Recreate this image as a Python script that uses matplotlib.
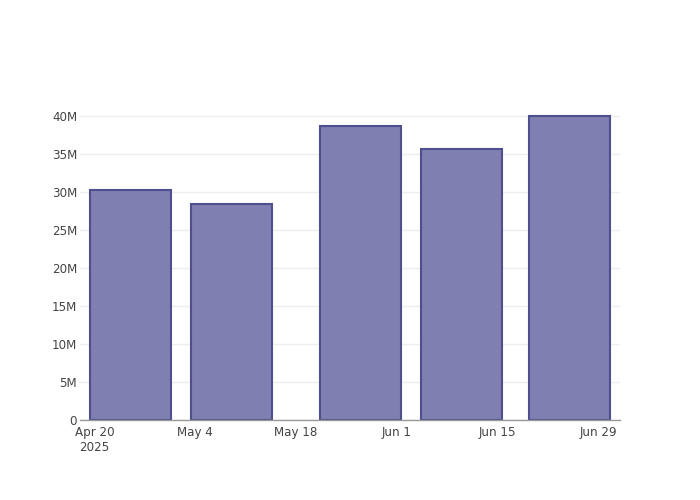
import datetime as dt
import matplotlib
matplotlib.use("Agg")
import matplotlib.pyplot as plt
import matplotlib.dates as mdates
from matplotlib.ticker import FuncFormatter

# data
dates = ["2025-04-25", "2025-05-09", "2025-05-27", "2025-06-10", "2025-06-25"]
values = [30.25e6, 28.4e6, 38.7e6, 35.65e6, 40.0e6]
tick_dates = ["2025-04-20", "2025-05-04", "2025-05-18", "2025-06-01", "2025-06-15", "2025-06-29"]
tick_labels = ["Apr 20\n2025", "May 4", "May 18", "Jun 1", "Jun 15", "Jun 29"]
y_ticks = [0, 5e6, 10e6, 15e6, 20e6, 25e6, 30e6, 35e6, 40e6]

x = [mdates.date2num(dt.date.fromisoformat(d)) for d in dates]
bar_w = 14 * 0.8

fig = plt.figure(figsize=(7, 5), dpi=100)
ax = fig.add_axes([80 / 700, 80 / 500, 540 / 700, 320 / 500])

ax.bar(x, values, width=bar_w, color="#7f7fb1", edgecolor="#4f4f8f",
       linewidth=1.5, zorder=3)

pad = 1.4
ax.set_xlim(x[0] - bar_w / 2 - pad, x[-1] + bar_w / 2 + pad)
ax.set_ylim(0, max(values) * 1.052)

ax.set_xticks([mdates.date2num(dt.date.fromisoformat(d)) for d in tick_dates])
ax.set_xticklabels(tick_labels)
ax.set_yticks(y_ticks)
ax.yaxis.set_major_formatter(FuncFormatter(lambda v, p: "0" if v == 0 else f"{v / 1e6:.0f}M"))

ax.grid(axis="y", color="#eeeeee", linewidth=1, zorder=0)
for side in ["top", "right", "left"]:
    ax.spines[side].set_visible(False)
ax.spines["bottom"].set_color("#999999")
ax.spines["bottom"].set_linewidth(1)
ax.spines["bottom"].set_zorder(4)

ax.tick_params(axis="both", length=0, labelsize=8.6, labelcolor="#444444")
ax.tick_params(axis="x", pad=4)
ax.tick_params(axis="y", pad=2)

fig.savefig("out.png", dpi=100)
